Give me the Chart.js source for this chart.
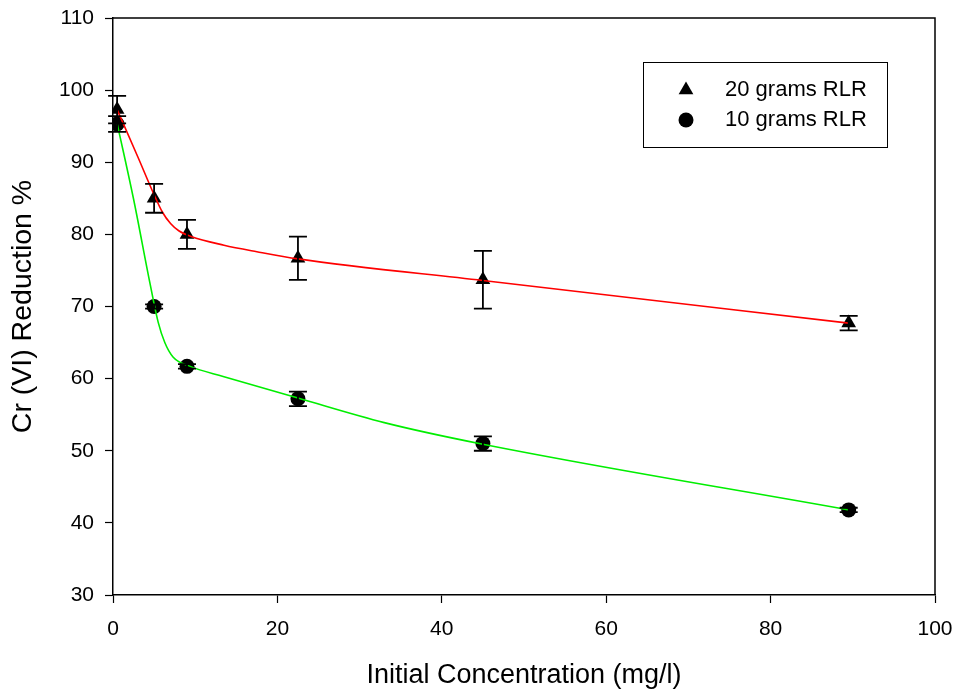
<!DOCTYPE html>
<html>
<head>
<meta charset="utf-8">
<title>Cr (VI) Reduction</title>
<script src="https://cdn.jsdelivr.net/npm/chart.js@4.4.1/dist/chart.umd.min.js"></script>
<style>
  html, body { margin: 0; padding: 0; background: #fff; }
  #wrap { width: 957px; height: 689px; position: relative; }
</style>
</head>
<body>
<div id="wrap"><canvas id="chart"></canvas></div>
<script>
// Measured points (initial concentration, mg/l)
const concentrations = [0.5, 5, 9, 22.5, 45, 89.5];
const reduction20 = [97.3, 85.0, 80.0, 76.7, 73.7, 67.7];
const error20 = [1.9, 2.0, 2.0, 3.0, 4.0, 1.0];
const reduction10 = [95.3, 70.0, 61.7, 57.2, 51.0, 41.8];
const error10 = [1.1, 0.3, 0.3, 1.0, 1.0, 0.3];

// Fitted curves
const fitX20 = [0.5, 3, 5, 6, 7, 8, 9.5, 13.5, 17.5, 22.5, 45, 89.5];
const fitY20 = [97.3, 90.8, 85.5, 83.1, 81.5, 80.5, 79.7, 78.5, 77.6, 76.6, 73.6, 67.7];
const fitX10 = [0.5, 2.5, 4.5, 5.5, 6.3, 7.3, 9.4, 13.4, 22.5, 33, 45, 89.5];
const fitY10 = [95.4, 84.9, 73.2, 67.8, 65.0, 63.0, 61.7, 60.3, 57.3, 53.9, 50.9, 41.8];

const xTicks = [0, 20, 40, 60, 80, 100];
const yTicks = [30, 40, 50, 60, 70, 80, 90, 100, 110];

const seriesNames = ['20 grams RLR', '10 grams RLR'];

const FONT = 'Liberation Sans, Arial, sans-serif';

function toPoints(xs, ys) {
  return xs.map((x, i) => ({ x, y: ys[i] }));
}

// error bars drawn through the scales
const errorBars = {
  id: 'errorBars',
  afterDatasetsDraw(chart) {
    const { ctx, scales: { x, y } } = chart;
    ctx.save();
    ctx.strokeStyle = '#000';
    ctx.lineWidth = 1.8;
    chart.data.datasets.forEach(ds => {
      if (!ds.errors) return;
      ds.data.forEach((p, i) => {
        const px = x.getPixelForValue(p.x);
        const top = y.getPixelForValue(p.y + ds.errors[i]);
        const bot = y.getPixelForValue(p.y - ds.errors[i]);
        ctx.beginPath();
        ctx.moveTo(px, top); ctx.lineTo(px, bot);
        ctx.moveTo(px - 9, top); ctx.lineTo(px + 9, top);
        ctx.moveTo(px - 9, bot); ctx.lineTo(px + 9, bot);
        ctx.stroke();
      });
    });
    ctx.restore();
  }
};

// top/right frame + boxed legend inside the plot
const frameLegend = {
  id: 'frameLegend',
  afterDraw(chart) {
    const { ctx, chartArea: a } = chart;
    ctx.save();
    ctx.strokeStyle = '#000';
    ctx.lineWidth = 1.5;
    ctx.beginPath();
    ctx.moveTo(a.left, a.top); ctx.lineTo(a.right, a.top); ctx.lineTo(a.right, a.bottom);
    ctx.stroke();

    const bx = a.right - 292, by = a.top + 44;
    ctx.lineWidth = 1;
    ctx.strokeRect(bx + 0.5, by + 0.5, 244, 85);

    ctx.fillStyle = '#000';
    const mx = bx + 43;
    // triangle
    const ty = by + 28, r = 8.5;
    ctx.beginPath();
    ctx.moveTo(mx, ty - r);
    ctx.lineTo(mx + r * 0.866, ty + r * 0.5);
    ctx.lineTo(mx - r * 0.866, ty + r * 0.5);
    ctx.closePath();
    ctx.fill();
    // circle
    const cy = by + 58;
    ctx.beginPath();
    ctx.arc(mx, cy, 7.5, 0, Math.PI * 2);
    ctx.fill();

    ctx.font = '22px ' + FONT;
    ctx.textBaseline = 'middle';
    ctx.textAlign = 'left';
    ctx.fillText(seriesNames[0], bx + 82, ty);
    ctx.fillText(seriesNames[1], bx + 82, cy);
    ctx.restore();
  }
};

new Chart(document.getElementById('chart'), {
  type: 'scatter',
  data: {
    datasets: [
      {
        label: seriesNames[0] + ' fit',
        data: toPoints(fitX20, fitY20),
        showLine: true,
        borderColor: '#ff0000',
        borderWidth: 1.6,
        pointRadius: 0,
        cubicInterpolationMode: 'monotone',
        order: 1
      },
      {
        label: seriesNames[1] + ' fit',
        data: toPoints(fitX10, fitY10),
        showLine: true,
        borderColor: '#00ee00',
        borderWidth: 1.6,
        pointRadius: 0,
        cubicInterpolationMode: 'monotone',
        order: 1
      },
      {
        label: seriesNames[0],
        data: toPoints(concentrations, reduction20),
        errors: error20,
        pointStyle: 'triangle',
        pointRadius: 8.5,
        backgroundColor: '#000',
        borderColor: '#000',
        borderWidth: 0,
        order: 2
      },
      {
        label: seriesNames[1],
        data: toPoints(concentrations, reduction10),
        errors: error10,
        pointStyle: 'circle',
        pointRadius: 7.5,
        backgroundColor: '#000',
        borderColor: '#000',
        borderWidth: 0,
        order: 2
      }
    ]
  },
  options: {
    responsive: true,
    maintainAspectRatio: false,
    animation: false,
    layout: { padding: { top: 18, right: 22, left: 0, bottom: 0 } },
    plugins: { legend: { display: false }, tooltip: { enabled: false } },
    scales: {
      x: {
        type: 'linear',
        min: xTicks[0],
        max: xTicks[xTicks.length - 1],
        afterBuildTicks: s => { s.ticks = xTicks.map(v => ({ value: v })); },
        afterFit: s => { s.height = 94; s.paddingLeft = 0; s.paddingRight = 0; },
        ticks: { color: '#000', font: { family: FONT, size: 21 }, padding: 14 },
        grid: { drawOnChartArea: false, tickLength: 8, tickColor: '#000', tickWidth: 1.2 },
        border: { color: '#000', width: 1.5 },
        title: {
          display: true,
          text: 'Initial Concentration (mg/l)',
          color: '#000',
          font: { family: FONT, size: 27, weight: 'normal', lineHeight: 1 },
          padding: { top: 0, bottom: 0 }
        }
      },
      y: {
        type: 'linear',
        min: yTicks[0],
        max: yTicks[yTicks.length - 1],
        afterBuildTicks: s => { s.ticks = yTicks.map(v => ({ value: v })); },
        afterFit: s => { s.width = 113; s.paddingTop = 0; s.paddingBottom = 0; },
        ticks: { color: '#000', font: { family: FONT, size: 21 }, padding: 11 },
        grid: { drawOnChartArea: false, tickLength: 8, tickColor: '#000', tickWidth: 1.2 },
        border: { color: '#000', width: 1.5 },
        title: {
          display: true,
          text: 'Cr (VI) Reduction %',
          color: '#000',
          font: { family: FONT, size: 28.5, weight: 'normal' },
          padding: { top: 6, bottom: 0 }
        }
      }
    }
  },
  plugins: [errorBars, frameLegend]
});
</script>
</body>
</html>
